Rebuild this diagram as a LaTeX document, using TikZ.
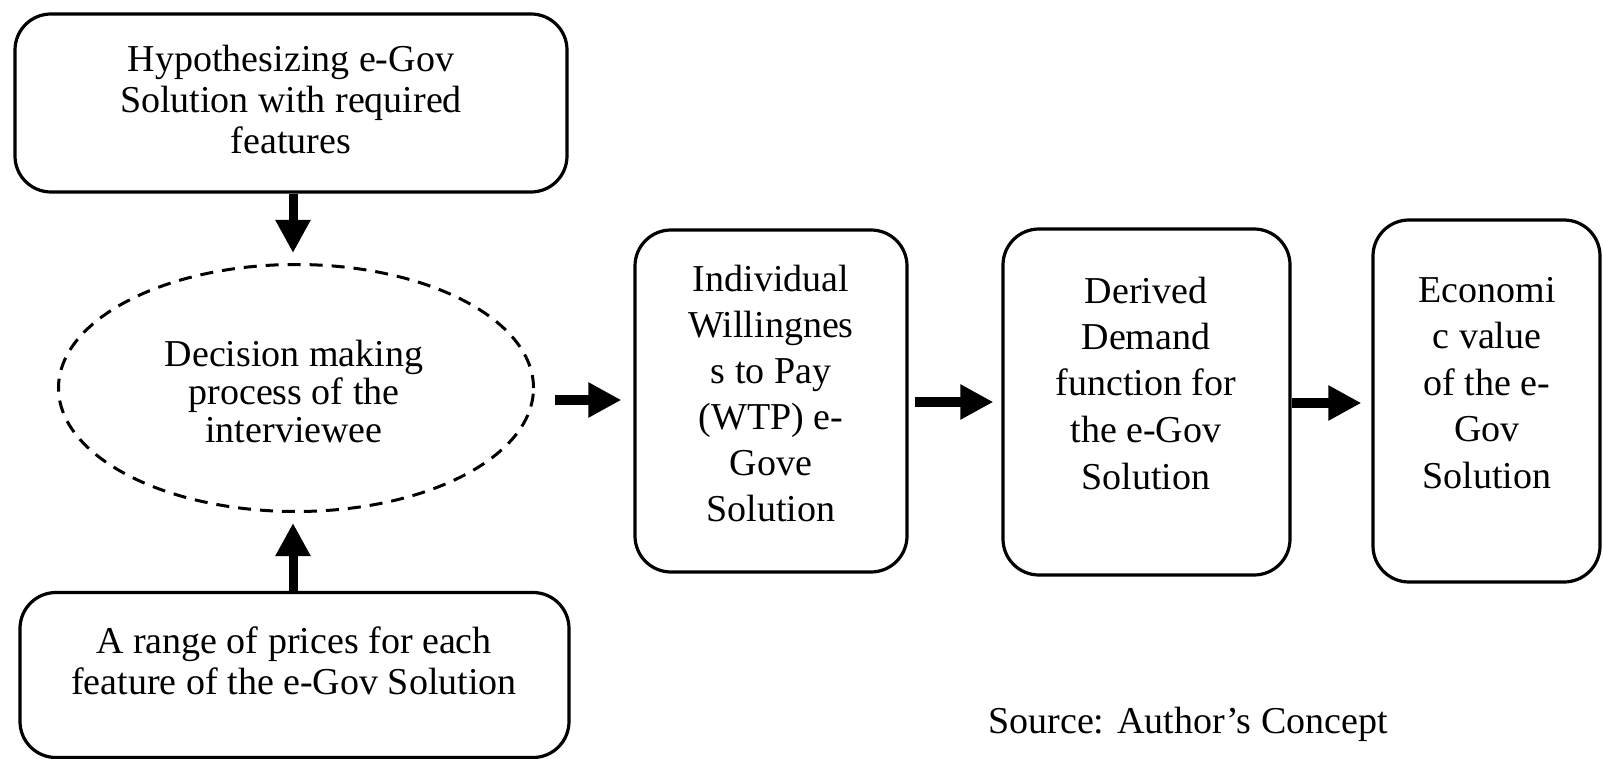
\documentclass[tikz,border=0pt]{standalone}
\usepackage{fontspec}
\setmainfont{Liberation Serif}
\usetikzlibrary{arrows.meta,shapes.geometric,calc}
\begin{document}
\begin{tikzpicture}[x=1pt,y=-1pt,
  box/.style={draw, line width=3.2pt, rounded corners=36pt, inner sep=0pt},
  txt/.style={align=center, inner sep=0pt},
  bigarrow/.style={line width=10pt, -{Triangle[length=33pt,width=33pt]}},
]
\useasboundingbox (0,0) rectangle (1603,759);
% left column
\node[box, minimum width=552pt, minimum height=178pt] (top) at (291,103) {};
\node[txt, font=\fontsize{38}{41}\selectfont] (toptxt) at (291,100) {Hypothesizing e-Gov\\Solution with required\\features};
\node[draw, ellipse, dash pattern=on 13pt off 9pt, line width=3pt, minimum width=475pt, minimum height=247pt, inner sep=0pt] (ell) at (296,388) {};
\node[txt, font=\fontsize{38}{38}\selectfont] (elltxt) at (294,392) {Decision making\\process of the\\interviewee};
\node[box, minimum width=549pt, minimum height=165pt] (bot) at (294.5,675) {};
\node[txt, font=\fontsize{38}{41}\selectfont] (bottxt) at (294,661) {A range of prices for each\\feature of the e-Gov Solution};
% right chain
\node[box, minimum width=272pt, minimum height=342pt] (wtp) at (771,401) {};
\node[txt, font=\fontsize{38}{46}\selectfont] (wtptxt) at (771,393) {Individual\\Willingnes\\s to Pay\\(WTP) e-\\Gove\\Solution};
\node[box, minimum width=287pt, minimum height=346pt] (der) at (1146.5,402) {};
\node[txt, font=\fontsize{38}{46.5}\selectfont] (dertxt) at (1146,383) {Derived\\Demand\\function for\\the e-Gov\\Solution};
\node[box, minimum width=227pt, minimum height=362pt] (eco) at (1486.5,401) {};
\node[txt, font=\fontsize{38}{46.5}\selectfont] (ecotxt) at (1487,383) {Economi\\c value\\of the e-\\Gov\\Solution};
\node[txt, font=\fontsize{38}{41}\selectfont] (src) at (1188,724) {Source: Author's Concept};
% arrows
\draw[bigarrow, line width=9pt, shorten >=10pt] ([xshift=-3pt]ell.north |- top.south) -- ([xshift=-3pt]ell.north);
\draw[bigarrow, line width=9pt, shorten >=10pt] ([xshift=-3pt]ell.south |- bot.north) -- ([xshift=-3pt]ell.south);
\draw[bigarrow, shorten <=20pt, shorten >=12pt] (ell.east |- 0,400) -- (wtp.west |- 0,400);
\draw[bigarrow, shorten <=6pt, shorten >=8pt] (wtp.east |- 0,402) -- (der.west |- 0,402);
\draw[bigarrow, shorten >=10pt] (der.east |- 0,403) -- (eco.west |- 0,403);
\end{tikzpicture}
\end{document}
